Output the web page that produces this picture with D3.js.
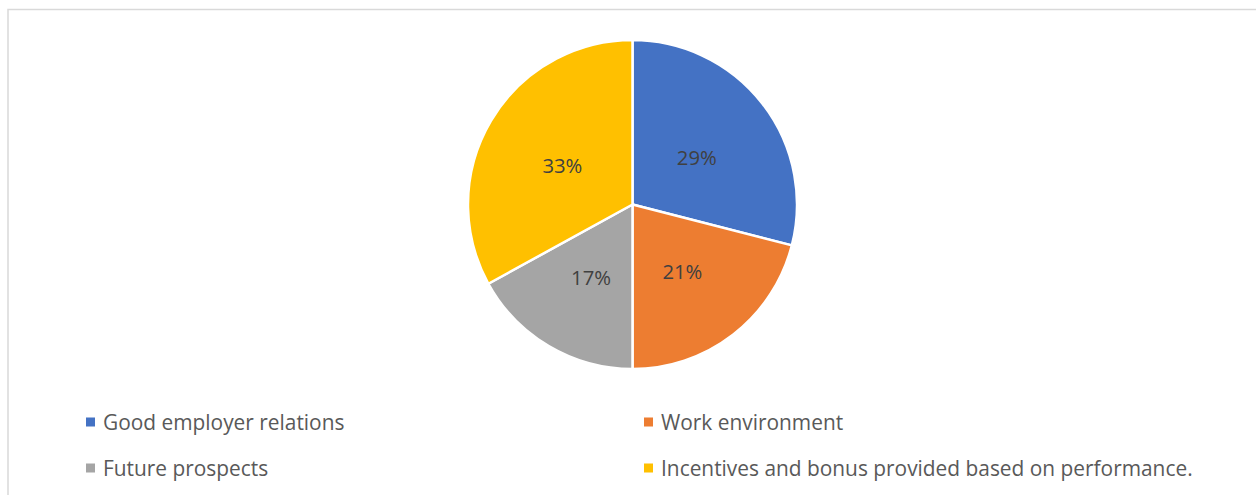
<!DOCTYPE html>
<html>
<head>
<meta charset="utf-8">
<script src="https://cdn.jsdelivr.net/npm/d3@7"></script>
<style>
  html, body { margin: 0; padding: 0; background: #fff; }
  svg { display: block; }
</style>
</head>
<body>
<svg id="chart" width="1256" height="495"></svg>
<script>
// Data
const categories = [
  "Good employer relations",
  "Work environment",
  "Future prospects",
  "Incentives and bonus provided based on performance."
];
const values = [29, 21, 17, 33];
const colors = ["#4472C4", "#ED7D31", "#A5A5A5", "#FFC000"];

const W = 1256, H = 495;
const svg = d3.select("#chart");
const font = "'Open Sans', Lato, sans-serif";

// Pick a font size so a sample string spans the wanted width
function fitSize(sample, width, base) {
  const t = svg.append("text")
    .attr("font-family", font).attr("font-size", base).text(sample);
  const w = t.node().getComputedTextLength();
  t.remove();
  return base * width / w;
}
const legendSize = fitSize(categories[3], 532, 20);
const labelSize = fitSize("29%", 40, 18);

// Chart area frame
svg.append("rect")
  .attr("x", 8).attr("y", 9.5)
  .attr("width", W + 10).attr("height", H + 10)
  .attr("fill", "#fff")
  .attr("stroke", "#d9d9d9")
  .attr("stroke-width", 1.5);

// Pie
const cx = 632.5, cy = 204.5, R = 164.5;
const pie = d3.pie().value(d => d).sort(null);
const arcs = pie(values);
const arc = d3.arc().innerRadius(0).outerRadius(R);
const labelArc = d3.arc().innerRadius(R * 0.495).outerRadius(R * 0.495);

const g = svg.append("g").attr("transform", `translate(${cx},${cy})`);

g.selectAll("path.slice")
  .data(arcs)
  .enter().append("path")
  .attr("class", "slice")
  .attr("d", arc)
  .attr("fill", (d, i) => colors[i])
  .attr("stroke", "#fff")
  .attr("stroke-width", 2.5)
  .attr("stroke-linejoin", "round");

const total = d3.sum(values);
g.selectAll("text.lbl")
  .data(arcs)
  .enter().append("text")
  .attr("class", "lbl")
  .attr("transform", d => {
    const [x, y] = labelArc.centroid(d);
    return `translate(${x},${y + 2})`;
  })
  .attr("text-anchor", "middle")
  .attr("dominant-baseline", "central")
  .attr("font-family", font)
  .attr("font-size", labelSize)
  .attr("fill", "#404040")
  .text(d => Math.round(d.data / total * 100) + "%");

// Legend: two columns, two rows
const legendCols = [86, 644];
const legendRows = [422, 468];
const legend = svg.append("g");
categories.forEach((c, i) => {
  const x = legendCols[i % 2];
  const y = legendRows[Math.floor(i / 2)];
  legend.append("rect")
    .attr("x", x).attr("y", y - 4.5)
    .attr("width", 9).attr("height", 9)
    .attr("fill", colors[i]);
  legend.append("text")
    .attr("x", x + 17).attr("y", y)
    .attr("dominant-baseline", "central")
    .attr("font-family", font)
    .attr("font-size", legendSize)
    .attr("fill", "#595959")
    .text(c);
});
</script>
</body>
</html>
